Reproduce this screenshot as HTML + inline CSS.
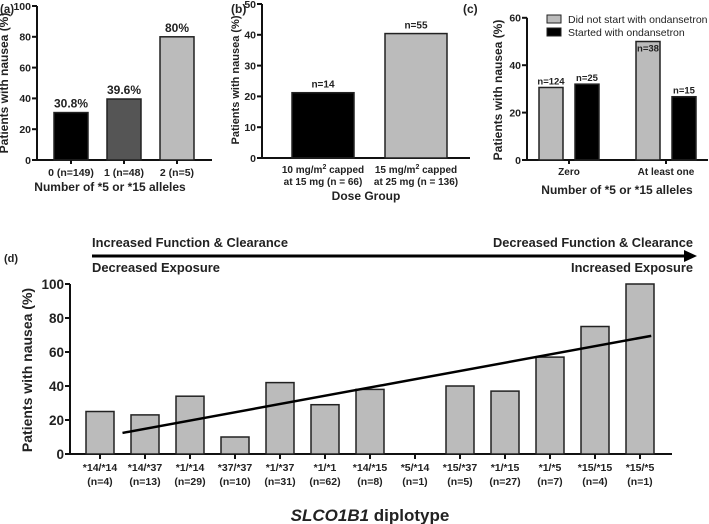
<!DOCTYPE html>
<html><head><meta charset="utf-8"><style>
body{margin:0;background:#fff;width:709px;height:524px;overflow:hidden}
svg{display:block;font-family:"Liberation Sans",Arial,sans-serif;font-weight:bold}
</style></head><body>
<svg id="s" width="709" height="524" viewBox="0 0 709 524" xmlns="http://www.w3.org/2000/svg">
<g id="pa"></g>
<g id="pb"></g>
<g id="pc"></g>
<g id="pd"></g>
</svg>
<script>
// Panel a
const aCats=["0 (n=149)","1 (n=48)","2 (n=5)"];
const aVals=[30.8,39.6,80];
const aLabels=["30.8%","39.6%","80%"];
const aTicks=[0,20,40,60,80,100];
// Panel b
const bCats1=["10 mg/m","15 mg/m"];
const bCats2=["at 15 mg (n = 66)","at 25 mg (n = 136)"];
const bVals=[21.2,40.4];
const bLabels=["n=14","n=55"];
const bTicks=[0,10,20,30,40,50];
// Panel c
const cCats=["Zero","At least one"];
const cSeries1=[30.6,50];
const cSeries2=[32,26.7];
const cLabels1=["n=124","n=38"];
const cLabels2=["n=25","n=15"];
const cTicks=[0,20,40,60];
// Panel d
const dCats=["*14/*14","*14/*37","*1/*14","*37/*37","*1/*37","*1/*1","*14/*15","*5/*14","*15/*37","*1/*15","*1/*5","*15/*15","*15/*5"];
const dN=["(n=4)","(n=13)","(n=29)","(n=10)","(n=31)","(n=62)","(n=8)","(n=1)","(n=5)","(n=27)","(n=7)","(n=4)","(n=1)"];
const dVals=[25,23,34,10,42,29,38,0,40,37,57,75,100];
const dTicks=[0,20,40,60,80,100];
const dTrendIdx=[0.5,12.25];
const dTrendVals=[12.4,69.5];

const NS="http://www.w3.org/2000/svg";
function mk(parent,tag,attrs,text){const e=document.createElementNS(NS,tag);for(const k in attrs)e.setAttribute(k,attrs[k]);if(text!==undefined)e.textContent=text;parent.appendChild(e);return e;}
function yAxis(g,x,y0,scale,ticks,fs,name){
  const l=mk(g,'line',{x1:x,y1:y0,x2:x,y2:y0-scale(ticks[ticks.length-1]),stroke:'#111','stroke-width':2});
  
  
  ticks.forEach(t=>{const y=y0-scale(t);
    mk(g,'line',{x1:x-5,y1:y,x2:x,y2:y,stroke:'#111','stroke-width':2});
    const tx=mk(g,'text',{x:x-6,y:y+fs*0.36,'text-anchor':'end','font-size':fs,fill:'#222'},t);
    
    
  });
}
function txt(g,x,y,s,fs,name,anchor,extra){const t=mk(g,'text',Object.assign({x:x,y:y,'font-size':fs,'text-anchor':anchor||'middle',fill:'#222'},extra||{}),s);
  
  return t;}
function bar(g,x,w,y0,h,fill,name){const r=mk(g,'rect',{x:x,y:y0-h,width:w,height:h,fill:fill,stroke:'#222','stroke-width':1.5});
  
  return r;}

// ---- Panel a
(function(){const g=document.getElementById('pa');const x0=37,y0=160,sc=v=>v*1.54;
  txt(g,0,13,'(a)',11.5,'panel-a-label','start');
  yAxis(g,x0,y0,sc,aTicks,10.5,'panel-a');
  mk(g,'line',{x1:x0,y1:y0,x2:212,y2:y0,stroke:'#111','stroke-width':2});
  const fills=['#000','#555','#bbb'];
  aVals.forEach((v,i)=>{const cx=71+i*53;
    bar(g,cx-17,34,y0,sc(v),fills[i],'bar-a-'+i);
    mk(g,'line',{x1:cx,y1:y0,x2:cx,y2:y0+4,stroke:'#111','stroke-width':2});
    txt(g,cx,y0-sc(v)-5,aLabels[i],12,'bar-a-value-label');
    txt(g,cx,y0+16,aCats[i],10.5,'x-tick-label-a');});
  txt(g,110,191,'Number of *5 or *15 alleles',12,'x-axis-title-a');
  txt(g,0,0,'Patients with nausea (%)',12,'y-axis-title-a','middle',{transform:'translate(8,83) rotate(-90)'});
})();
// ---- Panel b
(function(){const g=document.getElementById('pb');const x0=262,y0=158,sc=v=>v*3.08;
  txt(g,231,13,'(b)',12,'panel-b-label','start');
  yAxis(g,x0,y0,sc,bTicks,10.5,'panel-b');
  mk(g,'line',{x1:x0,y1:y0,x2:470,y2:y0,stroke:'#111','stroke-width':2});
  const fills=['#000','#bbb'];
  bVals.forEach((v,i)=>{const cx=323+i*93;
    bar(g,cx-31,62,y0,sc(v),fills[i],'bar-b-'+i);
    txt(g,cx,y0-sc(v)-5,bLabels[i],10,'bar-b-value-label');
    const t=txt(g,cx,y0+15,'',10,'x-tick-label-b');
    t.innerHTML=bCats1[i]+'<tspan dy="-4" font-size="7">2</tspan><tspan dy="4"> capped</tspan>';
    txt(g,cx,y0+27,bCats2[i],10,'x-tick-label-b-line2');});
  txt(g,366,200,'Dose Group',12,'x-axis-title-b');
  txt(g,0,0,'Patients with nausea (%)',11,'y-axis-title-b','middle',{transform:'translate(239,80) rotate(-90)'});
})();
// ---- Panel c
(function(){const g=document.getElementById('pc');const x0=527,y0=160,sc=v=>v*2.37;
  txt(g,463,13,'(c)',12,'panel-c-label','start');
  yAxis(g,x0,y0,sc,cTicks,10.5,'panel-c');
  mk(g,'line',{x1:x0,y1:y0,x2:708,y2:y0,stroke:'#111','stroke-width':2});
  cCats.forEach((c,i)=>{const base=539+i*97;
    bar(g,base,24,y0,sc(cSeries1[i]),'#bbb','bar-c-did-not-start-'+i);
    bar(g,base+36,24,y0,sc(cSeries2[i]),'#000','bar-c-started-'+i);
    txt(g,base+12,y0-sc(cSeries1[i])+(i==1?10:-3),cLabels1[i],9.5,'bar-c-n-label');
    txt(g,base+48,y0-sc(cSeries2[i])-3,cLabels2[i],9.5,'bar-c-n-label');
    mk(g,'line',{x1:base+30,y1:y0,x2:base+30,y2:y0+4,stroke:'#111','stroke-width':2});
    txt(g,base+30,y0+15,c,10,'x-tick-label-c');});
  const l1=mk(g,'rect',{x:547,y:15,width:14,height:8,fill:'#bbb',stroke:'#222'});
  
  
  const l2=mk(g,'rect',{x:547,y:28,width:14,height:8,fill:'#000',stroke:'#222'});
  
  
  txt(g,568,23,'Did not start with ondansetron',10.5,'legend-entry-did-not-start','start',{'font-weight':'normal'});
  txt(g,568,36,'Started with ondansetron',10.5,'legend-entry-started','start',{'font-weight':'normal'});
  txt(g,617,194,'Number of *5 or *15 alleles',12,'x-axis-title-c');
  txt(g,0,0,'Patients with nausea (%)',12,'y-axis-title-c','middle',{transform:'translate(502,90) rotate(-90)'});
})();
// ---- Panel d
(function(){const g=document.getElementById('pd');const x0=70,y0=454,sc=v=>v*1.7,xi=i=>100+i*45;
  txt(g,4,262,'(d)',11,'panel-d-label','start');
  txt(g,92,247,'Increased Function & Clearance',13,'arrow-label-increased-function','start',{textLength:196,lengthAdjust:'spacingAndGlyphs'});
  txt(g,92,272,'Decreased Exposure',13,'arrow-label-decreased-exposure','start',{textLength:128,lengthAdjust:'spacingAndGlyphs'});
  txt(g,693,247,'Decreased Function & Clearance',13,'arrow-label-decreased-function','end',{textLength:200,lengthAdjust:'spacingAndGlyphs'});
  txt(g,693,272,'Increased Exposure',13,'arrow-label-increased-exposure','end',{textLength:122,lengthAdjust:'spacingAndGlyphs'});
  const ar=mk(g,'line',{x1:92,y1:256,x2:686,y2:256,stroke:'#000','stroke-width':3});
  
  
  mk(g,'polygon',{points:'684,250 697,256 684,262',fill:'#000'});
  yAxis(g,x0,y0,sc,dTicks,13.5,'panel-d');
  mk(g,'line',{x1:x0,y1:y0,x2:672,y2:y0,stroke:'#111','stroke-width':2});
  dVals.forEach((v,i)=>{const cx=xi(i);
    if(v>0) bar(g,cx-14,28,y0,sc(v),'#bbb','bar-d-'+i);
    mk(g,'line',{x1:cx,y1:y0,x2:cx,y2:y0+5,stroke:'#111','stroke-width':2});
    txt(g,cx,y0+17,dCats[i],10.5,'x-tick-label-d');
    txt(g,cx,y0+31,dN[i],10.5,'x-tick-n-label-d');});
  const tl=mk(g,'line',{x1:xi(dTrendIdx[0]),y1:y0-sc(dTrendVals[0]),x2:xi(dTrendIdx[1]),y2:y0-sc(dTrendVals[1]),stroke:'#000','stroke-width':2.5});
  
  
  const t=txt(g,370,521,'',17,'x-axis-title-d');
  t.innerHTML='<tspan font-style="italic">SLCO1B1</tspan> diplotype';
  txt(g,0,0,'Patients with nausea (%)',14,'y-axis-title-d','middle',{transform:'translate(32,370) rotate(-90)'});
})();
</script>
</body></html>
